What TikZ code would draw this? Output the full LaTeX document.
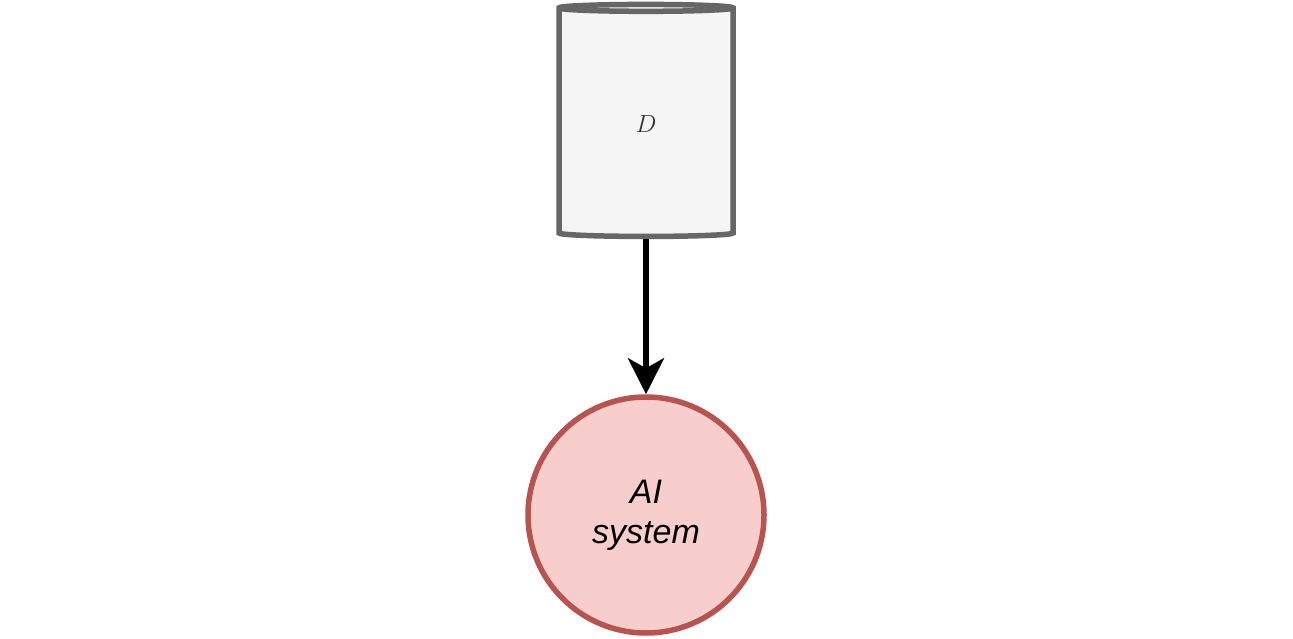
\documentclass[tikz,border=0pt]{standalone}
\usepackage{fontspec}
\setmainfont{Liberation Sans}
\usetikzlibrary{shapes.geometric,arrows.meta,positioning}
\definecolor{dbfill}{HTML}{F5F5F5}
\definecolor{dbdraw}{HTML}{666666}
\definecolor{aifill}{HTML}{F8CECC}
\definecolor{aidraw}{HTML}{B85450}
\tikzset{
  datastore/.style={cylinder, shape border rotate=90, aspect=0.25,
    minimum width=174pt, minimum height=232pt, line width=5.5pt,
    draw=dbdraw, fill=dbfill, text=black!80, font=\fontsize{40}{44}\selectfont},
  system/.style={circle, minimum size=236pt, line width=5.5pt, inner sep=0pt,
    draw=aidraw, fill=aifill, align=center,
    font=\fontsize{34}{40}\selectfont\itshape},
}
\begin{document}
\begin{tikzpicture}[x=1pt,y=-1pt]
  \useasboundingbox (0,0) rectangle (1293,639);
  % data set and model
  \node (data) [datastore] at (646,124) {$D$};
  \node (ai) [system] at (646,515) {AI\\system};
  % training arrow
  \draw[line width=6pt, -{Stealth[length=36pt,width=36pt,inset=10pt]}] (data.bottom) -- (ai.north);
\end{tikzpicture}
\end{document}
